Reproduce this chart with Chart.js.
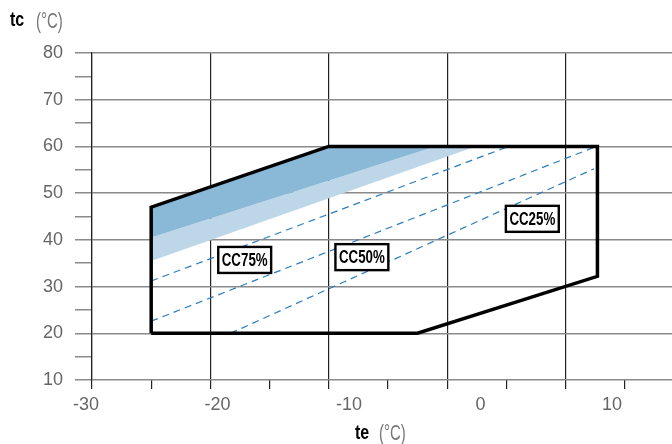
<!DOCTYPE html>
<html lang="en">
<head>
    <meta charset="UTF-8">
    <title>Operating envelope</title>
    <script src="https://cdn.jsdelivr.net/npm/chart.js"></script>
    <style>
        body { margin: 0; background: #fff; }
    </style>
</head>
<body>
    <canvas id="myChart" width="672" height="444"></canvas>

    <script>
        // envelope outline (te, tc)
        const envTe = [-25, -25, -10, 12.7, 12.7, -2.5, -25];
        const envTc = [20, 47, 60, 60, 32.2, 20, 20];

        // dark blue band (upper)
        const darkTe = [-25, -25, -10, -1, -25];
        const darkTc = [40.5, 47, 60, 60, 40.5];

        // light blue band
        const lightTe = [-25, -25, -1, 2.4, -25];
        const lightTc = [35.5, 40.5, 60, 60, 35.5];

        // dashed capacity limits
        const limit75Te = [-25, 5.2];
        const limit75Tc = [31.2, 60];
        const limit50Te = [-25, 12.4];
        const limit50Tc = [22.6, 59.8];
        const limit25Te = [-18.3, 12.4];
        const limit25Tc = [20, 55.2];

        // boxed labels
        const labelText = ['CC75%', 'CC50%', 'CC25%'];
        const labelTe = [-17.1, -7.2, 7.2];
        const labelTc = [35.7, 36.3, 44.5];

        const xTickLabels = [-30, -20, -10, 0, 10];

        const pts = (xs, ys) => xs.map((x, i) => ({ x: x, y: ys[i] }));

        const gridDark = '#222';
        const gridGrey = '#8a8a8a';
        const tickFont = { family: 'Liberation Sans, Arial, sans-serif', size: 18 };

        // draws condensed text by squeezing it horizontally
        function narrowText(ctx, text, x, y, squeeze) {
            ctx.save();
            ctx.translate(x, y);
            ctx.scale(squeeze, 1);
            ctx.fillText(text, 0, 0);
            ctx.restore();
        }

        const overlay = {
            id: 'overlay',
            afterDraw(chart) {
                const ctx = chart.ctx;
                const xs = chart.scales.x, ys = chart.scales.y;
                ctx.save();
                // boxed CC labels
                ctx.font = 'bold 18px "Liberation Sans", Arial, sans-serif';
                ctx.textAlign = 'center';
                ctx.textBaseline = 'middle';
                labelText.forEach((t, i) => {
                    const px = xs.getPixelForValue(labelTe[i]);
                    const py = ys.getPixelForValue(labelTc[i]);
                    const w = ctx.measureText(t).width * 0.74 + 7;
                    const h = 26;
                    ctx.fillStyle = '#fff';
                    ctx.fillRect(px - w / 2, py - h / 2, w, h);
                    ctx.lineWidth = 2.4;
                    ctx.strokeStyle = '#000';
                    ctx.strokeRect(px - w / 2, py - h / 2, w, h);
                    ctx.fillStyle = '#000';
                    narrowText(ctx, t, px, py + 1, 0.74);
                });
                // axis titles
                ctx.textAlign = 'left';
                ctx.textBaseline = 'alphabetic';
                ctx.font = 'bold 20px "Liberation Sans", Arial, sans-serif';
                ctx.fillStyle = '#000';
                narrowText(ctx, 'tc', 10, 26, 0.8);
                narrowText(ctx, 'te', 355, 439, 0.8);
                ctx.font = '22px "Liberation Sans", Arial, sans-serif';
                ctx.fillStyle = '#777';
                narrowText(ctx, '(°C)', 36, 28, 0.68);
                narrowText(ctx, '(°C)', 379, 440, 0.68);
                ctx.restore();
            }
        };

        const ctx = document.getElementById('myChart').getContext('2d');
        const myChart = new Chart(ctx, {
            type: 'scatter',
            data: {
                datasets: [
                    {
                        label: 'envelope',
                        data: pts(envTe, envTc),
                        showLine: true,
                        borderColor: '#000',
                        borderWidth: 3.5,
                        pointRadius: 0,
                        fill: false,
                        order: 0
                    },
                    {
                        label: 'CC75',
                        data: pts(limit75Te, limit75Tc),
                        showLine: true,
                        borderColor: '#2a7cc0',
                        borderWidth: 1.2,
                        borderDash: [7, 5],
                        pointRadius: 0,
                        order: 1
                    },
                    {
                        label: 'CC50',
                        data: pts(limit50Te, limit50Tc),
                        showLine: true,
                        borderColor: '#2a7cc0',
                        borderWidth: 1.2,
                        borderDash: [7, 5],
                        pointRadius: 0,
                        order: 1
                    },
                    {
                        label: 'CC25',
                        data: pts(limit25Te, limit25Tc),
                        showLine: true,
                        borderColor: '#2a7cc0',
                        borderWidth: 1.2,
                        borderDash: [7, 5],
                        pointRadius: 0,
                        order: 1
                    },
                    {
                        label: 'dark band',
                        data: pts(darkTe, darkTc),
                        showLine: true,
                        borderWidth: 0,
                        borderColor: 'rgba(0,0,0,0)',
                        backgroundColor: '#8ab8d7',
                        fill: 'shape',
                        pointRadius: 0,
                        order: 2
                    },
                    {
                        label: 'light band',
                        data: pts(lightTe, lightTc),
                        showLine: true,
                        borderWidth: 0,
                        borderColor: 'rgba(0,0,0,0)',
                        backgroundColor: '#bdd6e8',
                        fill: 'shape',
                        pointRadius: 0,
                        order: 3
                    }
                ]
            },
            options: {
                responsive: false,
                animation: false,
                devicePixelRatio: 1,
                layout: { padding: { top: 53, bottom: 25, left: 0, right: 0 } },
                plugins: {
                    legend: { display: false },
                    tooltip: { enabled: false }
                },
                scales: {
                    x: {
                        type: 'linear',
                        position: 'bottom',
                        weight: 0,
                        min: -30,
                        max: 19,
                        afterFit: s => { s.height = 9; },
                        border: { display: false },
                        grid: {
                            color: c => (c.tick && c.tick.value % 10 === 0) ? gridDark : 'rgba(0,0,0,0)',
                            tickColor: gridDark,
                            lineWidth: 1.2,
                            tickLength: 9
                        },
                        ticks: { display: false, stepSize: 5, includeBounds: false, autoSkip: false }
                    },
                    xl: {
                        type: 'linear',
                        position: 'bottom',
                        weight: 1,
                        min: -30,
                        max: 14.1,
                        afterFit: s => { s.height = 30; },
                        afterBuildTicks: s => { s.ticks = xTickLabels.map(v => ({ value: v })); },
                        border: { display: false },
                        grid: { display: false, drawTicks: false },
                        ticks: {
                            font: tickFont,
                            color: '#666',
                            padding: 5,
                            labelOffset: -6,
                            autoSkip: false,
                            maxRotation: 0
                        }
                    },
                    y: {
                        type: 'linear',
                        min: 10,
                        max: 80,
                        afterFit: s => { s.width = 92; },
                        border: { display: true, color: gridDark, width: 1.2 },
                        grid: {
                            color: c => (c.tick && c.tick.value % 10 === 0) ? gridGrey : 'rgba(0,0,0,0)',
                            tickColor: gridGrey,
                            lineWidth: 1.5,
                            tickLength: 17
                        },
                        ticks: {
                            stepSize: 5,
                            autoSkip: false,
                            font: tickFont,
                            color: '#666',
                            padding: 12,
                            callback: v => (v % 10 === 0 ? v : '')
                        }
                    }
                }
            },
            plugins: [overlay]
        });
    </script>
</body>
</html>
